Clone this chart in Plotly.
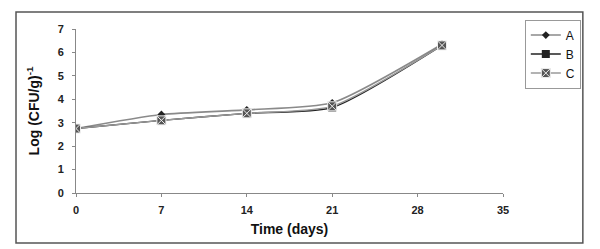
import plotly.graph_objects as go

days = [0, 7, 14, 21, 30]
series_a = [2.75, 3.35, 3.55, 3.85, 6.35]
series_b = [2.75, 3.10, 3.40, 3.65, 6.30]
series_c = [2.75, 3.10, 3.40, 3.70, 6.30]
x_ticks = [0, 7, 14, 21, 28, 35]
y_ticks = [0, 1, 2, 3, 4, 5, 6, 7]

fig = go.Figure()
fig.add_trace(go.Scatter(x=days, y=series_a, name="A", mode="lines+markers",
                         line=dict(color="#8a8a8a", width=1.6, shape="spline", smoothing=0.6),
                         marker=dict(symbol="diamond", size=6, color="#222")))
fig.add_trace(go.Scatter(x=days, y=series_b, name="B", mode="lines+markers",
                         line=dict(color="#222", width=1.4, shape="spline", smoothing=0.6),
                         marker=dict(symbol="square", size=8, color="#222")))
fig.add_trace(go.Scatter(x=days, y=series_c, name="C", mode="lines+markers",
                         line=dict(color="#9a9a9a", width=1.4, shape="spline", smoothing=0.6),
                         marker=dict(symbol="square-x", size=9, color="#555",
                                     line=dict(color="#eee", width=1))))

# page body has an 8px margin: figure is 592x241 drawn at (8,8)
fig.add_shape(type="rect", xref="paper", yref="paper",
              x0=-0.1405, x1=1.187, y0=-0.305, y1=1.104,
              line=dict(color="#555", width=1.5), layer="below")

axis_font = dict(family="Liberation Sans, Arial", size=11, color="#222", weight="bold")
fig.update_layout(
    width=592, height=241,
    margin=dict(l=68, r=97, t=21, b=56, autoexpand=False),
    paper_bgcolor="white", plot_bgcolor="white",
    showlegend=True,
    legend=dict(xref="container", yref="container", x=0.873, y=0.952,
                xanchor="left", yanchor="top",
                bordercolor="#999", borderwidth=1, bgcolor="white",
                font=dict(family="Liberation Sans, Arial", size=12, color="#111"),
                tracegroupgap=0, itemwidth=30),
    xaxis=dict(range=[0, 35], tickvals=x_ticks, showgrid=False, zeroline=False,
               showline=True, linecolor="#888", linewidth=1, automargin=False,
               ticks="outside", ticklen=3, tickcolor="#888", ticklabelstandoff=4,
               tickfont=axis_font,
               title=dict(text="<b>Time (days)</b>", standoff=8,
                          font=dict(family="Liberation Sans, Arial", size=14, color="#111"))),
    yaxis=dict(range=[0, 7], tickvals=y_ticks, showgrid=False, zeroline=False,
               showline=True, linecolor="#888", linewidth=1, automargin=False,
               ticks="outside", ticklen=3, tickcolor="#888", ticklabelstandoff=6,
               tickfont=axis_font,
               title=dict(text="<b>Log (CFU/g)<sup>-1</sup></b>", standoff=14,
                          font=dict(family="Liberation Sans, Arial", size=14, color="#111"))),
)

fig.write_html("out.html")
